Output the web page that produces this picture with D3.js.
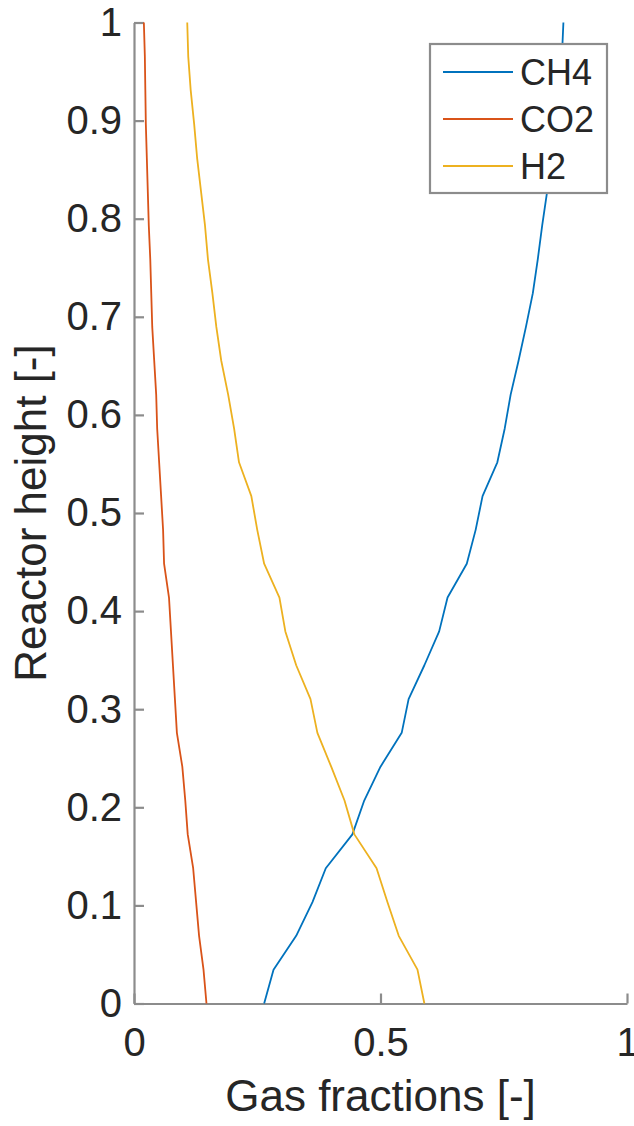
<!DOCTYPE html>
<html>
<head>
<meta charset="utf-8">
<script src="https://cdn.jsdelivr.net/npm/d3@7"></script>
<style>
  body { margin: 0; background: #fff; }
  .chart text { font-family: 'Liberation Sans', Arial, sans-serif; fill: #262626; }
</style>
</head>
<body>
<div class="chart"></div>
<script>
// reactor height positions (30 nodes)
const heights = [0, 0.0345, 0.069, 0.1034, 0.1379, 0.1724, 0.2069, 0.2414, 0.2759, 0.3103,
  0.3448, 0.3793, 0.4138, 0.4483, 0.4828, 0.5172, 0.5517, 0.5862, 0.6207, 0.6552,
  0.6897, 0.7241, 0.7586, 0.7931, 0.8276, 0.8621, 0.8966, 0.931, 0.9655, 1];

const ch4 = [0.264, 0.283, 0.329, 0.362, 0.389, 0.443, 0.467, 0.500, 0.543, 0.557,
  0.589, 0.619, 0.636, 0.675, 0.693, 0.707, 0.737, 0.752, 0.764, 0.780,
  0.795, 0.809, 0.819, 0.828, 0.838, 0.846, 0.854, 0.862, 0.868, 0.871];

const co2 = [0.147, 0.141, 0.132, 0.126, 0.120, 0.109, 0.104, 0.098, 0.087, 0.083,
  0.079, 0.075, 0.071, 0.061, 0.059, 0.055, 0.051, 0.047, 0.045, 0.041,
  0.037, 0.035, 0.033, 0.030, 0.028, 0.026, 0.024, 0.023, 0.022, 0.020];

const h2 = [0.589, 0.575, 0.537, 0.514, 0.492, 0.447, 0.427, 0.400, 0.372, 0.358,
  0.329, 0.307, 0.295, 0.264, 0.250, 0.238, 0.213, 0.203, 0.191, 0.177,
  0.167, 0.159, 0.150, 0.144, 0.136, 0.128, 0.122, 0.115, 0.110, 0.108];

const seriesNames = ['CH4', 'CO2', 'H2'];
const seriesColors = ['#0072BD', '#D95319', '#EDB120'];

const xTicks = [0, 0.5, 1];
const xTickLabels = ['0', '0.5', '1'];
const yTicks = [0, 0.1, 0.2, 0.3, 0.4, 0.5, 0.6, 0.7, 0.8, 0.9, 1];
const yTickLabels = ['0', '0.1', '0.2', '0.3', '0.4', '0.5', '0.6', '0.7', '0.8', '0.9', '1'];

const W = 634, H = 1126;
const margin = { top: 22.5, right: 7, bottom: 122.5, left: 134 };
const width = W - margin.left - margin.right;
const height = H - margin.top - margin.bottom;

const x = d3.scaleLinear().domain([0, 1]).range([0, width]);
const y = d3.scaleLinear().domain([0, 1]).range([height, 0]);

const svg = d3.select('.chart').append('svg')
    .attr('width', W)
    .attr('height', H)
  .append('g')
    .attr('transform', `translate(${margin.left}, ${margin.top})`);

const axisColor = '#8c8c8c';

// x axis, ticks pointing inward
const gx = svg.append('g')
    .attr('transform', `translate(0, ${height})`)
    .call(d3.axisBottom(x)
      .tickValues(xTicks)
      .tickFormat((d, i) => xTickLabels[i])
      .tickSizeInner(-10)
      .tickSizeOuter(0)
      .tickPadding(24));

const gy = svg.append('g')
    .call(d3.axisLeft(y)
      .tickValues(yTicks)
      .tickFormat((d, i) => yTickLabels[i])
      .tickSizeInner(-10)
      .tickSizeOuter(0)
      .tickPadding(12));

[gx, gy].forEach((g) => {
  g.select('.domain').attr('stroke', axisColor).attr('stroke-width', 2.2);
  g.selectAll('.tick line').attr('stroke', axisColor).attr('stroke-width', 2.2);
  g.selectAll('.tick text')
    .attr('font-size', 40)
    .attr('fill', '#262626');
});

// lines
const allSeries = [ch4, co2, h2];
const line = d3.line()
  .x((d) => x(d[0]))
  .y((d) => y(d[1]));

allSeries.forEach((vals, k) => {
  svg.append('path')
    .datum(vals.map((v, i) => [v, heights[i]]))
    .attr('fill', 'none')
    .attr('stroke', seriesColors[k])
    .attr('stroke-width', 1.8)
    .attr('stroke-linejoin', 'round')
    .attr('d', line);
});

// axis labels
svg.append('text')
  .attr('x', width / 2)
  .attr('y', height + 107)
  .attr('text-anchor', 'middle')
  .attr('font-size', 44)
  .text('Gas fractions [-]');

svg.append('text')
  .attr('transform', `translate(${46 - margin.left}, ${height / 2}) rotate(-90)`)
  .attr('text-anchor', 'middle')
  .attr('font-size', 44)
  .text('Reactor height [-]');

// legend
const legend = svg.append('g')
  .attr('transform', `translate(${430 - margin.left}, ${44 - margin.top})`);

legend.append('rect')
  .attr('width', 177)
  .attr('height', 149)
  .attr('fill', '#fff')
  .attr('stroke', axisColor)
  .attr('stroke-width', 2.2);

seriesNames.forEach((name, k) => {
  const ly = 28 + k * 47;
  legend.append('line')
    .attr('x1', 13)
    .attr('x2', 83)
    .attr('y1', ly)
    .attr('y2', ly)
    .attr('stroke', seriesColors[k])
    .attr('stroke-width', 1.8);
  legend.append('text')
    .attr('x', 90)
    .attr('y', ly)
    .attr('dy', '0.36em')
    .attr('font-size', 36)
    .attr('fill', '#000')
    .text(name);
});
</script>
</body>
</html>
